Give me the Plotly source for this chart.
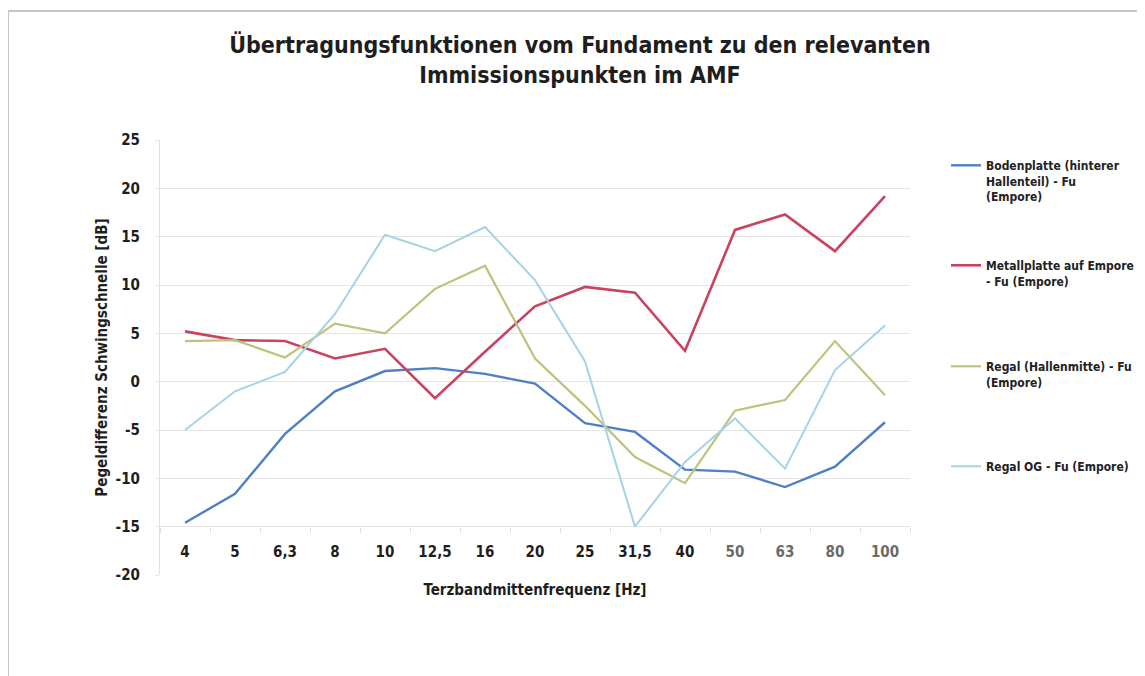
import plotly.graph_objects as go

# ---- data ----
frequencies = ["4", "5", "6,3", "8", "10", "12,5", "16", "20", "25", "31,5", "40", "50", "63", "80", "100"]
tick_colors = ["#1e1e1e"] * 11 + ["#6a6a6a"] * 4

bodenplatte = [-14.6, -11.6, -5.4, -1.0, 1.1, 1.4, 0.8, -0.2, -4.3, -5.2, -9.1, -9.3, -10.9, -8.8, -4.2]
metallplatte = [5.2, 4.3, 4.2, 2.4, 3.4, -1.7, 3.1, 7.8, 9.8, 9.2, 3.2, 15.7, 17.3, 13.5, 19.2]
regal_mitte = [4.2, 4.3, 2.5, 6.0, 5.0, 9.6, 12.0, 2.4, -2.5, -7.8, -10.5, -3.0, -1.9, 4.2, -1.4]
regal_og = [-5.0, -1.0, 1.0, 7.0, 15.2, 13.5, 16.0, 10.5, 2.1, -15.0, -8.3, -3.8, -9.0, 1.2, 5.8]

series_names = [
    "Bodenplatte (hinterer<br>Hallenteil) - Fu<br>(Empore)",
    "Metallplatte auf Empore<br>- Fu (Empore)",
    "Regal (Hallenmitte) - Fu<br>(Empore)",
    "Regal OG - Fu (Empore)",
]
series_values = [bodenplatte, metallplatte, regal_mitte, regal_og]
series_colors = ["#4f7fc4", "#c9435f", "#bcc47c", "#a6d2e6"]
series_widths = [2.4, 2.6, 2.2, 2.0]

y_ticks = [25, 20, 15, 10, 5, 0, -5, -10, -15, -20]

FONT = "Liberation Sans Narrow, DejaVu Sans Condensed, Arial Narrow, Arial, sans-serif"

# page offset of the figure inside the browser (body margin)
OFF = 8
PLOT_L, PLOT_T, PLOT_W, PLOT_H = 160 - OFF, 140 - OFF, 750, 435
W, H = 1145, 676

fig = go.Figure()
legend_ids = ["legend", "legend2", "legend3", "legend4"]
for name, vals, col, w, lg in zip(series_names, series_values, series_colors, series_widths, legend_ids):
    fig.add_trace(go.Scatter(
        x=frequencies, y=vals, mode="lines", name=name,
        line=dict(color=col, width=w), legend=lg, showlegend=True,
    ))

ticktext = [f"<span style='color:{c}'>{t}</span>" for t, c in zip(frequencies, tick_colors)]


def py2paper(py):
    # screen y (px) -> paper fraction
    return (575 - py) / 435.0


def px2paper(px):
    return (px - 160) / 750.0


legend_common = dict(
    xanchor="left", yanchor="top", valign="top",
    bgcolor="rgba(0,0,0,0)", borderwidth=0,
    font=dict(family=FONT, size=12, color="#222222", weight="bold"),
    tracegroupgap=0,
)
legend_y_px = [151, 251, 352, 452]
layout_legends = {}
for lg, ypx in zip(legend_ids, legend_y_px):
    layout_legends[lg] = dict(legend_common, x=1.048, y=py2paper(ypx))

fig.update_layout(
    width=W, height=H,
    showlegend=True,
    paper_bgcolor="white", plot_bgcolor="white",
    margin=dict(l=PLOT_L, r=W - PLOT_L - PLOT_W, t=PLOT_T, b=H - PLOT_T - PLOT_H, autoexpand=False),
    title=dict(
        text="Übertragungsfunktionen vom Fundament zu den relevanten<br>Immissionspunkten im AMF",
        x=(580 - OFF) / W, xanchor="center", y=0.933, yanchor="top", automargin=False,
        font=dict(family=FONT, size=23, color="#1e1e1e", weight="bold"),
    ),
    xaxis=dict(
        type="category", categoryorder="array", categoryarray=frequencies,
        tickvals=frequencies, ticktext=ticktext,
        range=[-0.5, 14.5],
        anchor="free", position=5 / 45, automargin=False,
        showgrid=False, zeroline=False, showline=False,
        ticks="outside", tickson="boundaries", ticklen=5, tickcolor="#e2e2e2",
        tickfont=dict(family=FONT, size=15, color="#1e1e1e", weight="bold"),
        ticklabelstandoff=14,
        title=dict(text="Terzbandmittenfrequenz [Hz]", standoff=24,
                   font=dict(family=FONT, size=15, color="#1e1e1e", weight="bold")),
    ),
    yaxis=dict(
        range=[-20, 25], tickvals=y_ticks, ticktext=[str(v) for v in y_ticks],
        automargin=False,
        showgrid=True, gridcolor="#e4e4e4", gridwidth=1,
        zeroline=False, showline=True, linecolor="#e0e0e0", linewidth=1,
        ticks="outside", ticklen=4, tickcolor="#e6e6e6",
        tickfont=dict(family=FONT, size=15, color="#1e1e1e", weight="bold"),
        ticklabelstandoff=12,
        title=dict(text="Pegeldifferenz Schwingschnelle [dB]", standoff=4,
                   font=dict(family=FONT, size=15, color="#1e1e1e", weight="bold")),
    ),
    shapes=[dict(
        type="rect", xref="paper", yref="paper",
        x0=px2paper(8), x1=px2paper(1170),
        y0=py2paper(700), y1=py2paper(11),
        line=dict(color="#c6c6c6", width=2), fillcolor="rgba(0,0,0,0)", layer="below",
    )],
    **layout_legends,
)

fig.write_html("out.html")
